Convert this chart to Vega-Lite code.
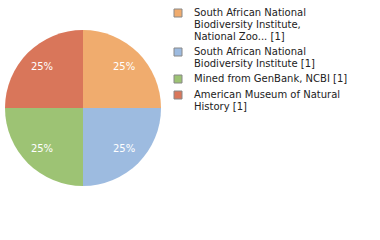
{
  "$schema": "https://vega.github.io/schema/vega-lite/v6.json",
  "width": 166,
  "height": 216,
  "padding": 0,
  "background": "white",
  "view": {"stroke": null},
  "data": {
    "values": [
      {"source": "South African National|Biodiversity Institute,|National Zoo... [1]", "count": 1, "order": 1, "pct": "25%"},
      {"source": "South African National|Biodiversity Institute [1]", "count": 1, "order": 2, "pct": "25%"},
      {"source": "Mined from GenBank, NCBI [1]", "count": 1, "order": 3, "pct": "25%"},
      {"source": "American Museum of Natural|History [1]", "count": 1, "order": 4, "pct": "25%"}
    ]
  },
  "encoding": {
    "theta": {"field": "count", "type": "quantitative", "stack": true},
    "order": {"field": "order", "type": "quantitative"}
  },
  "layer": [
    {
      "mark": {"type": "arc", "outerRadius": 78},
      "encoding": {
        "color": {
          "field": "source",
          "type": "nominal",
          "sort": {"field": "order"},
          "scale": {
            "domain": [
              "South African National|Biodiversity Institute,|National Zoo... [1]",
              "South African National|Biodiversity Institute [1]",
              "Mined from GenBank, NCBI [1]",
              "American Museum of Natural|History [1]"
            ],
            "range": ["#f0ac6e", "#9dbbe0", "#9dc374", "#d9765a"]
          },
          "legend": {
            "title": null,
            "orient": "none",
            "legendX": 173,
            "legendY": 8,
            "labelExpr": "split(datum.label, '|')",
            "labelFont": "DejaVu Sans",
            "labelFontSize": 10,
            "labelColor": "#222222",
            "labelLimit": 300,
            "labelOffset": 11,
            "labelBaseline": "middle",
            "symbolType": "square",
            "symbolSize": 64,
            "symbolStrokeColor": "#888888",
            "symbolStrokeWidth": 1,
            "rowPadding": 4,
            "encode": {"labels": {"update": {"lineHeight": {"value": 12}}}}
          }
        }
      }
    },
    {
      "mark": {"type": "text", "radius": 58, "font": "DejaVu Sans", "fontSize": 10, "color": "white"},
      "encoding": {
        "text": {"field": "pct"}
      }
    }
  ]
}
